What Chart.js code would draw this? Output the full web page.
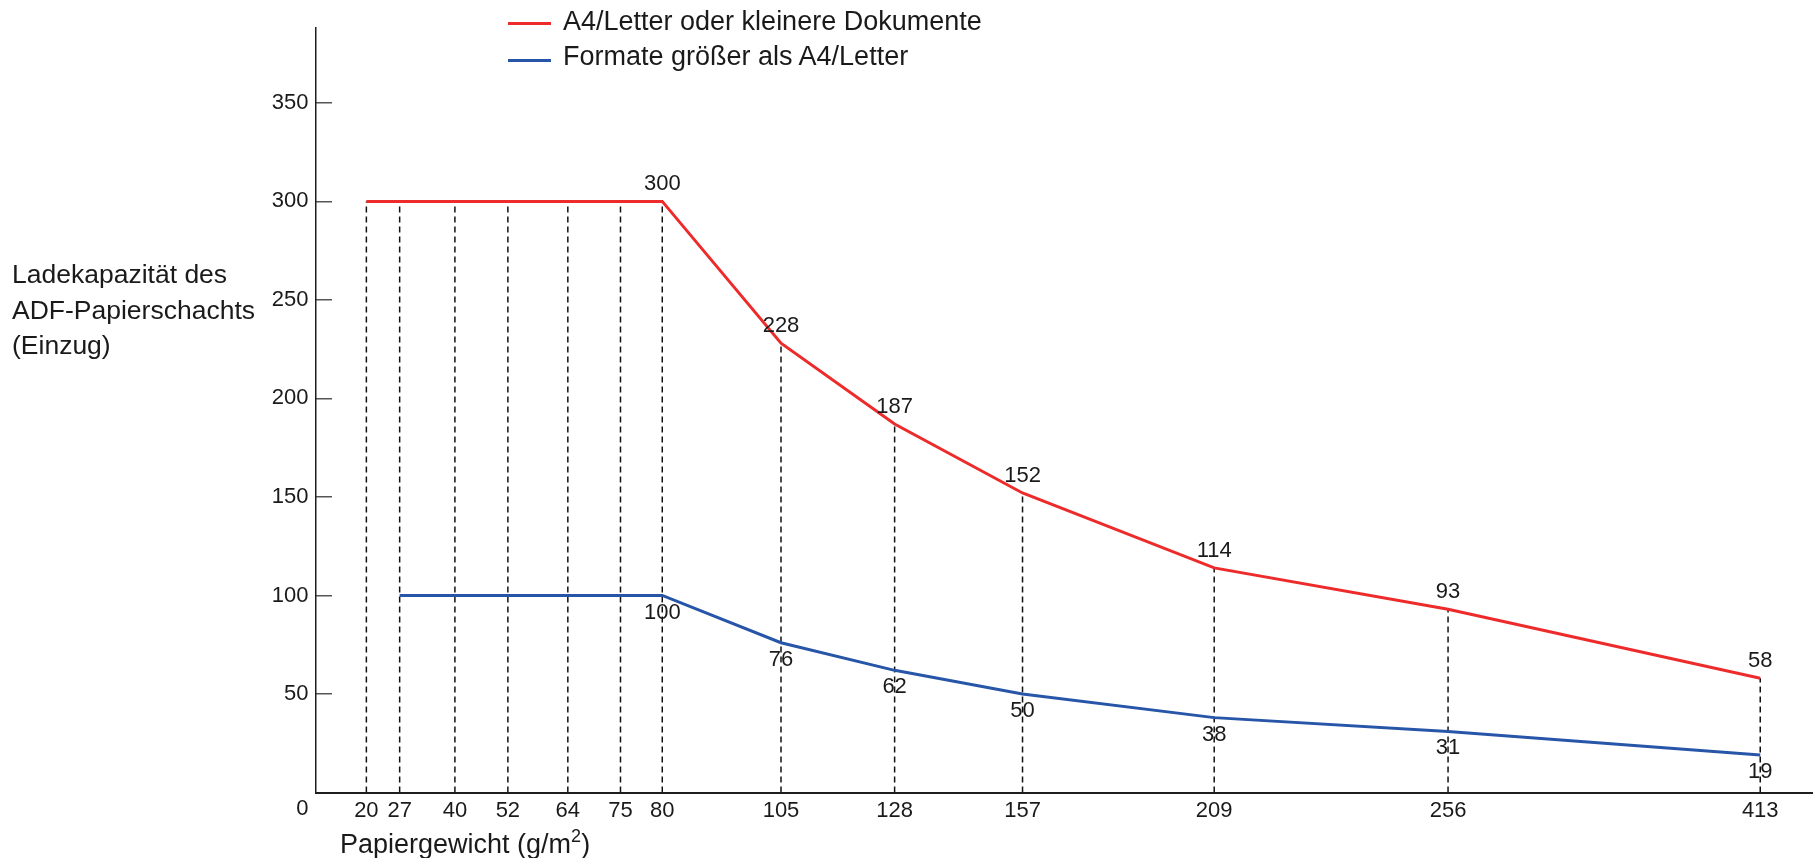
<!DOCTYPE html>
<html>
<head>
<meta charset="utf-8">
<script src="https://cdn.jsdelivr.net/npm/chart.js@4/dist/chart.umd.min.js"></script>
<style>
  html, body { margin: 0; padding: 0; background: #fff; }
  #wrap { position: relative; width: 1813px; height: 858px; overflow: hidden; font-family: "Liberation Sans", Arial, sans-serif; color: #1a1a1a; }
  #c { position: absolute; left: 0; top: 0; }
  .abs { position: absolute; white-space: nowrap; }
  .legline { position: absolute; width: 43px; height: 3px; }
  .legtxt { position: absolute; font-size: 27px; line-height: 30px; }
  #ytitle { left: 12px; top: 257px; font-size: 26.5px; line-height: 35.5px; }
  #xtitle { left: 340px; top: 829px; font-size: 27px; line-height: 30px; }
  #xtitle sup { font-size: 18px; line-height: 0; vertical-align: 11px; }
</style>
</head>
<body>
<div id="wrap">
  <canvas id="c" width="1813" height="858"></canvas>
  <div class="legline" style="left:508px; top:22px; background:#EE2B2B;"></div>
  <div class="legtxt abs" style="left:563px; top:6px;">A4/Letter oder kleinere Dokumente</div>
  <div class="legline" style="left:508px; top:59px; background:#2756A8;"></div>
  <div class="legtxt abs" style="left:563px; top:41px;">Formate größer als A4/Letter</div>
  <div id="ytitle" class="abs">Ladekapazität des<br>ADF-Papierschachts<br>(Einzug)</div>
  <div id="xtitle" class="abs">Papiergewicht (g/m<sup>2</sup>)</div>
</div>
<script>
// ---- data ----
const weights   = [20, 27, 40, 52, 64, 75, 80, 105, 128, 157, 209, 256, 413];
const smallDocs = [300, 300, 300, 300, 300, 300, 300, 228, 187, 152, 114, 93, 58];
const largeDocs = [null, 100, 100, 100, 100, 100, 100, 76, 62, 50, 38, 31, 19];
const yTickValues = [50, 100, 150, 200, 250, 300, 350];
const labelFromWeight = 80;

const RED = '#EE2B2B';
const BLUE = '#2756A8';
const FONT = '"Liberation Sans", Arial, sans-serif';

// ---- a piecewise-linear axis (the reference's x axis is not proportional) ----
const LinearBase = Chart.LinearScale || Chart.registry.getScale('linear');
class PiecewiseScale extends LinearBase {
  getPixelForValue(v) {
    const s = this.options.stops;
    let f;
    if (v <= s[0][0]) f = s[0][1];
    else if (v >= s[s.length - 1][0]) f = s[s.length - 1][1];
    else {
      for (let i = 1; i < s.length; i++) {
        if (v <= s[i][0]) {
          const a = s[i - 1], b = s[i];
          f = a[1] + (b[1] - a[1]) * (v - a[0]) / (b[0] - a[0]);
          break;
        }
      }
    }
    return this.getPixelForDecimal(f);
  }
  getValueForPixel(p) {
    const s = this.options.stops;
    const f = this.getDecimalForPixel(p);
    for (let i = 1; i < s.length; i++) {
      if (f <= s[i][1]) {
        const a = s[i - 1], b = s[i];
        return a[0] + (b[0] - a[0]) * (f - a[1]) / (b[1] - a[1]);
      }
    }
    return s[s.length - 1][0];
  }
}
PiecewiseScale.id = 'piecewise';
PiecewiseScale.defaults = LinearBase.defaults;
Chart.register(PiecewiseScale);

// ---- datasets ----
const redPoints = weights.map((w, i) => ({ x: w, y: smallDocs[i] }));
const bluePoints = weights.map((w, i) => ({ x: w, y: largeDocs[i] })).filter(p => p.y !== null);

const guideSets = weights.map((w, i) => ({
  data: [{ x: w, y: 0 }, { x: w, y: smallDocs[i] }],
  borderColor: '#111',
  borderWidth: 1.5,
  borderDash: [6, 4],
  pointRadius: 0,
  order: 10
}));

const datasets = [
  { label: 'A4/Letter oder kleinere Dokumente', data: redPoints, borderColor: RED, borderWidth: 3, pointRadius: 0, tension: 0, order: 1 },
  { label: 'Formate größer als A4/Letter', data: bluePoints, borderColor: BLUE, borderWidth: 3, pointRadius: 0, tension: 0, order: 0 },
  ...guideSets
];

// value labels
const valueLabels = {
  id: 'valueLabels',
  afterDatasetsDraw(chart) {
    const ctx = chart.ctx;
    ctx.save();
    ctx.font = '22px ' + FONT;
    ctx.fillStyle = '#1a1a1a';
    ctx.textAlign = 'center';
    ctx.textBaseline = 'middle';
    const xs = chart.scales.x, ys = chart.scales.y;
    weights.forEach((w, i) => {
      if (w < labelFromWeight) return;
      const px = xs.getPixelForValue(w);
      ctx.fillText(String(smallDocs[i]), px, ys.getPixelForValue(smallDocs[i]) - 17);
      if (largeDocs[i] !== null) {
        ctx.fillText(String(largeDocs[i]), px, ys.getPixelForValue(largeDocs[i]) + 17);
      }
    });
    // origin label "0"
    ctx.textAlign = 'right';
    ctx.fillText('0', chart.chartArea.left - 7.5, xs.top + 16.5);
    ctx.restore();
  }
};

new Chart(document.getElementById('c'), {
  type: 'line',
  data: { datasets },
  plugins: [valueLabels],
  options: {
    responsive: false,
    animation: false,
    devicePixelRatio: 1,
    layout: { padding: { top: 28, right: 0, left: 0, bottom: 0 } },
    plugins: { legend: { display: false }, tooltip: { enabled: false } },
    elements: { line: { borderJoinStyle: 'miter', borderCapStyle: 'butt' } },
    scales: {
      x: {
        type: 'piecewise',
        min: 0,
        max: 440,
        stops: [[0, 0], [20, 0.03365], [27, 0.05588], [40, 0.09279], [52, 0.12817], [64, 0.16822],
                [75, 0.20340], [80, 0.23131], [105, 0.31062], [128, 0.38652], [157, 0.47196],
                [209, 0.60000], [256, 0.75621], [413, 0.96475], [440, 1]],
        afterBuildTicks: s => { s.ticks = weights.map(v => ({ value: v })); },
        afterFit: s => { s.height = 65.5; s.paddingLeft = 0; s.paddingRight = 0; },
        grid: { drawOnChartArea: false, drawTicks: false },
        border: { color: '#1e1e1e', width: 2 },
        ticks: {
          autoSkip: false, maxRotation: 0, minRotation: 0, padding: 5.5,
          color: '#1a1a1a', font: { family: FONT, size: 22 },
          callback: v => String(v)
        }
      },
      y: {
        type: 'linear',
        min: 0,
        max: 388,
        afterBuildTicks: s => { s.ticks = yTickValues.map(v => ({ value: v })); },
        afterFit: s => { s.width = 316; s.paddingTop = 0; s.paddingBottom = 0; },
        grid: { drawOnChartArea: false, drawTicks: true, tickLength: -16, color: '#555', lineWidth: 1.5 },
        border: { color: '#1e1e1e', width: 1.5 },
        ticks: {
          padding: 23.5,
          color: '#1a1a1a', font: { family: FONT, size: 22 },
          callback: v => String(v)
        }
      }
    }
  }
});
</script>
</body>
</html>
